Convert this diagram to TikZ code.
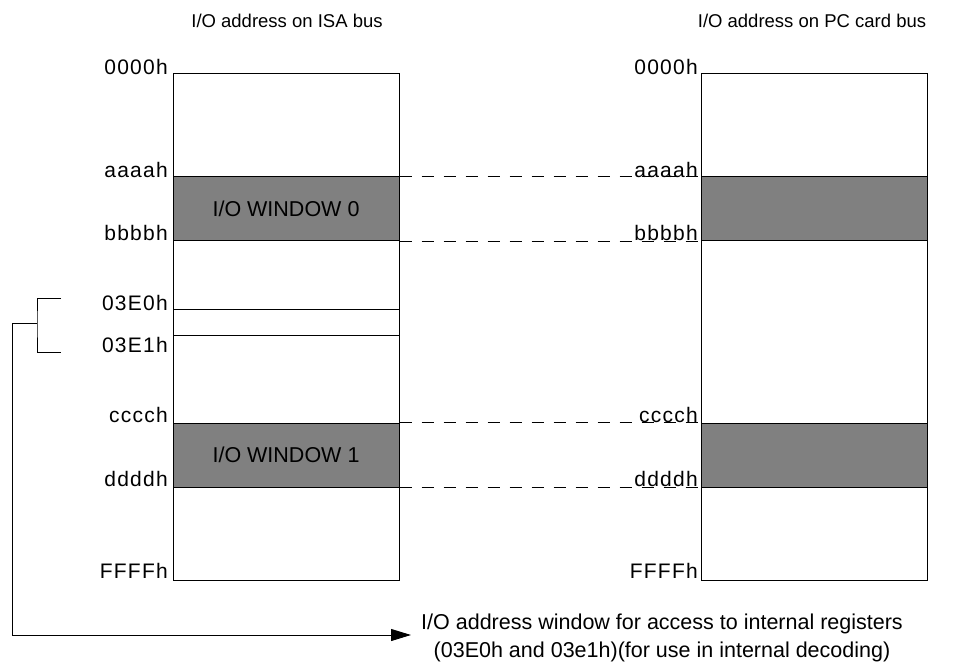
\documentclass[tikz,border=0pt]{standalone}
\usepackage{fontspec}
\setmainfont{Liberation Sans}
\newfontfamily\addrfont[LetterSpace=6]{Liberation Sans}
\usetikzlibrary{arrows.meta}
\usetikzlibrary{positioning}

\tikzset{
  membox/.style={draw, line width=1pt, minimum width=226pt, minimum height=506pt, inner sep=0pt},
  winbox/.style={draw, fill=gray, line width=1pt, minimum width=226pt, minimum height=64pt, inner sep=0pt,
    font=\fontsize{21.5}{24}\selectfont},
  regbox/.style={draw, line width=1pt, minimum width=226pt, minimum height=26pt, inner sep=0pt},
  addr/.style={inner sep=0pt, anchor=east, font=\addrfont\fontsize{21}{24}\selectfont},
  title/.style={inner sep=0pt, font=\fontsize{18.5}{22}\selectfont},
  gapline/.style={line width=1pt, dash pattern=on 12pt off 10pt},
  wire/.style={line width=1pt}
}

\begin{document}
\begin{tikzpicture}[x=1pt,y=-1pt]
    \useasboundingbox (0,0) rectangle (969,669);

    % Titles
    \node[title] (isatitle) at (287,21) {I/O address on ISA bus};
    \node[title] (pctitle) at (812,21) {I/O address on PC card bus};

    % Draw the address spaces
    \node[membox] (isa) at (286,327) {};
    \node[membox] (pc) at (814,327) {};

    % Windows
    \node[winbox] (win0) at (286,208.5) {I/O WINDOW 0};
    \node[winbox] (win1) at (286,455) {I/O WINDOW 1};
    \node[winbox] (pwin0) at (814,208.5) {};
    \node[winbox] (pwin1) at (814,455) {};
    \node[regbox] (reg) at (286,322) {};

    % Label addresses
    \node[addr] (l0) at (168,67) {0000h};
    \node[addr] (la) at (168,170) {aaaah};
    \node[addr] (lb) at (168,233) {bbbbh};
    \node[addr] (le0) at (168,303) {03E0h};
    \node[addr] (le1) at (168,345) {03E1h};
    \node[addr] (lc) at (168,415) {cccch};
    \node[addr] (ld) at (168,479) {ddddh};
    \node[addr] (lf) at (168,571) {FFFFh};

    \node[addr] (r0) at (698,67) {0000h};
    \node[addr] (ra) at (698,170) {aaaah};
    \node[addr] (rb) at (698,233) {bbbbh};
    \node[addr] (rc) at (698,415) {cccch};
    \node[addr] (rd) at (698,479) {ddddh};
    \node[addr] (rf) at (698,571) {FFFFh};

    % Draw the mapping lines
    \draw[gapline] (win0.north east) -- (pwin0.north west);
    \draw[gapline] (win0.south east) -- (pwin0.south west);
    \draw[gapline] (win1.north east) -- (pwin1.north west);
    \draw[gapline] (win1.south east) -- (pwin1.south west);

    % Bracket and arrow to the note
    \coordinate (e0) at (61,298);
    \coordinate (e1) at (61,352);
    \coordinate (bj) at (37,323);
    \coordinate (tip) at (411,635);
    \node[align=center, inner sep=0pt, font=\fontsize{21.5}{28}\selectfont] (note) at (662,638)
      {I/O address window for access to internal registers\\(03E0h and 03e1h)(for use in internal decoding)};
    \draw[wire] (e0) -| (bj) |- (e1);
    \draw[wire, -{Triangle[length=20pt,width=12pt]}] (bj) -- ++(-25,0) |- (tip);
\end{tikzpicture}
\end{document}
